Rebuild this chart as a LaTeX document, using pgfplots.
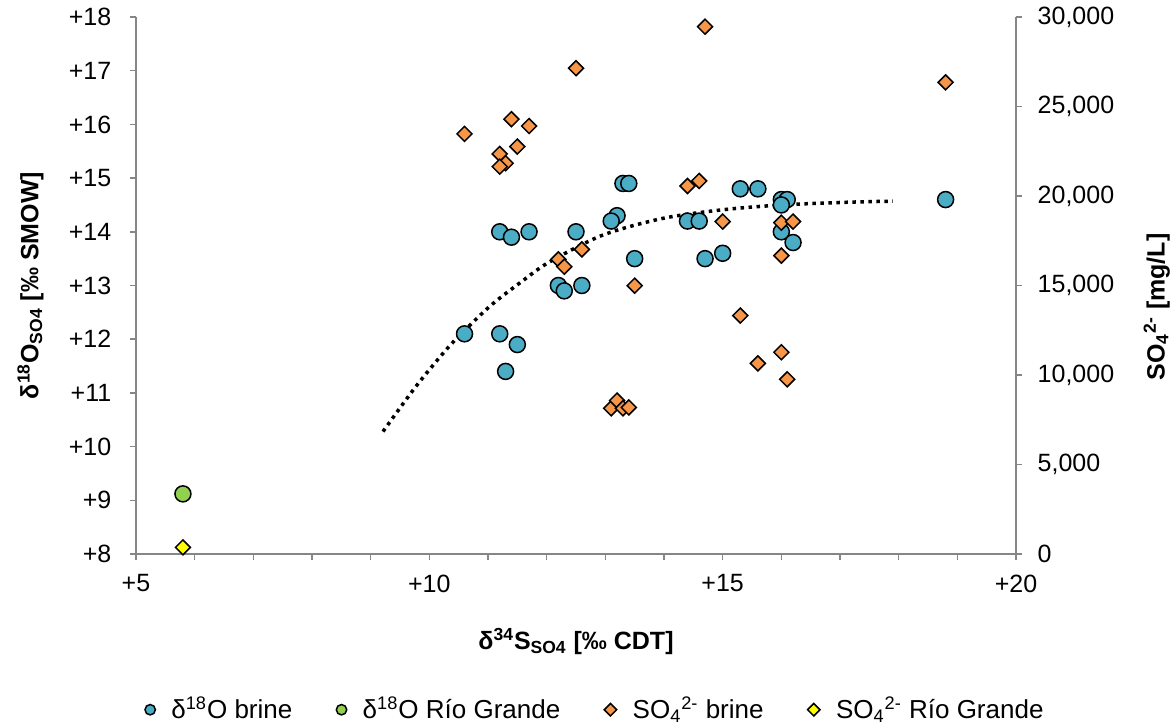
\documentclass[border=0pt]{standalone}
\usepackage{fontspec}
\setmainfont{Liberation Sans}
\usepackage{pgfplots}
\pgfplotsset{compat=1.18}
\definecolor{aqua}{HTML}{4BACC6}
\definecolor{grn}{HTML}{92D050}
\definecolor{orng}{HTML}{F79646}
\definecolor{yel}{HTML}{FFFF00}
\definecolor{axgray}{HTML}{868686}
\begin{document}
\fontsize{12.5bp}{15bp}\selectfont
\begin{tikzpicture}
\path[use as bounding box] (0,0) rectangle (587.5bp,363.5bp);
\pgfplotsset{
 every axis/.append style={
  scale only axis, width=440bp, height=268.5bp,
  at={(68bp,86.5bp)}, anchor=south west,
  xmin=5, xmax=20, clip=false,
  tick align=outside,
  major tick length=3bp, minor tick length=3bp,
  every tick/.style={axgray, line width=0.75bp},
  axis line style={axgray, line width=0.75bp},
  tick label style={font=\fontsize{12.5bp}{15bp}\selectfont, text=black},
  label style={font=\fontsize{12.5bp}{15bp}\selectfont\bfseries},
 }
}
\begin{axis}[
 axis x line*=bottom, axis y line*=left,
 ymin=8, ymax=18,
 xtick={5,10,15,20}, xticklabels={+5,+10,+15,+20},
 minor x tick num=4,
 ytick={8,9,10,11,12,13,14,15,16,17,18},
 yticklabels={+8,+9,+10,+11,+12,+13,+14,+15,+16,+17,+18},
 yticklabel style={xshift=-5bp},
 xticklabel style={yshift=-3bp},
 xlabel={δ\textsuperscript{34}S\textsubscript{SO4} [‰ CDT]},
 ylabel={δ\textsuperscript{18}O\textsubscript{SO4} [‰ SMOW]},
 xlabel style={at={(axis description cs:0.5,-0.163)}, anchor=center},
 ylabel style={at={(axis description cs:-0.12,0.5)}, anchor=center},
]
\addplot[only marks, mark=*, mark size=4bp, mark options={fill=aqua, draw=black, line width=0.75bp}] coordinates {
(13.3,14.9) (13.4,14.9) (15.3,14.8) (15.6,14.8) (16.0,14.6) (16.1,14.6) (16.0,14.5)
(13.2,14.3) (13.1,14.2) (14.4,14.2) (14.6,14.2) (11.2,14.0) (11.4,13.9) (11.7,14.0)
(12.5,14.0) (16.0,14.0) (16.2,13.8) (13.5,13.5) (14.7,13.5) (15.0,13.6) (12.2,13.0)
(12.3,12.9) (12.6,13.0) (10.6,12.1) (11.2,12.1) (11.5,11.9) (11.3,11.4) (18.8,14.6)
};
\addplot[only marks, mark=*, mark size=4bp, mark options={fill=grn, draw=black, line width=0.75bp}] coordinates {
(5.8,9.12)
};
\addplot[black, line width=1.75bp, dash pattern=on 1.75bp off 2.25bp, smooth, no markers] coordinates {
(9.21,10.28) (9.75,11.09) (10.26,11.77) (10.58,12.14) (11.06,12.64) (11.57,13.07)
(12.05,13.44) (12.96,13.94) (13.98,14.25) (15.0,14.41) (16.01,14.50)
(17.11,14.55) (17.90,14.57)
};
\end{axis}
\begin{axis}[
 axis y line*=right, axis x line=none,
 ymin=0, ymax=30000, scaled y ticks=false,
 ytick={0,5000,10000,15000,20000,25000,30000},
 yticklabels={0,{5,000},{10,000},{15,000},{20,000},{25,000},{30,000}},
 yticklabel style={xshift=3.5bp},
 ylabel={SO\textsubscript{4}\textsuperscript{2-} [mg/L]},
 ylabel style={at={(axis description cs:1.16,0.46)}, anchor=center},
 legend style={at={(axis description cs:0.523,-0.29)}, anchor=center, draw=none,
   font=\fontsize{13bp}{15bp}\selectfont, legend columns=4,
   /tikz/every odd column/.append style={column sep=6bp},
   /tikz/every even column/.append style={column sep=20bp}},
]
\addlegendimage{only marks, mark=*, mark size=2.6bp, mark options={fill=aqua, draw=black, line width=0.75bp}}
\addlegendentry{δ\textsuperscript{18}O brine}
\addlegendimage{only marks, mark=*, mark size=2.6bp, mark options={fill=grn, draw=black, line width=0.75bp}}
\addlegendentry{δ\textsuperscript{18}O Río Grande}
\addlegendimage{only marks, mark=square*, mark size=2.2bp, mark options={rotate=45, fill=orng, draw=black, line width=0.75bp}}
\addlegendentry{SO\textsubscript{4}\textsuperscript{2-} brine}
\addlegendimage{only marks, mark=square*, mark size=2.2bp, mark options={rotate=45, fill=yel, draw=black, line width=0.75bp}}
\addlegendentry{SO\textsubscript{4}\textsuperscript{2-} Río Grande}
\addplot[forget plot, only marks, mark=square*, mark size=2.65bp, mark options={rotate=45, fill=orng, draw=black, line width=0.75bp}] coordinates {
(14.7,29460) (12.5,27140) (10.6,23470) (11.4,24290) (11.7,23910) (11.5,22760)
(11.2,22350) (11.3,21830) (11.2,21640) (14.4,20560) (14.6,20840) (15.0,18570)
(16.0,18510) (16.2,18570) (16.0,16670) (12.6,17020) (12.2,16460) (12.3,16050)
(13.5,14990) (15.3,13320) (16.0,11270) (15.6,10650) (16.1,9760) (13.1,8140)
(13.2,8570) (13.3,8140) (13.4,8190) (18.8,26350)
};
\addplot[forget plot, only marks, mark=square*, mark size=2.65bp, mark options={rotate=45, fill=yel, draw=black, line width=0.75bp}] coordinates {
(5.8,370)
};
\end{axis}
\end{tikzpicture}
\end{document}
